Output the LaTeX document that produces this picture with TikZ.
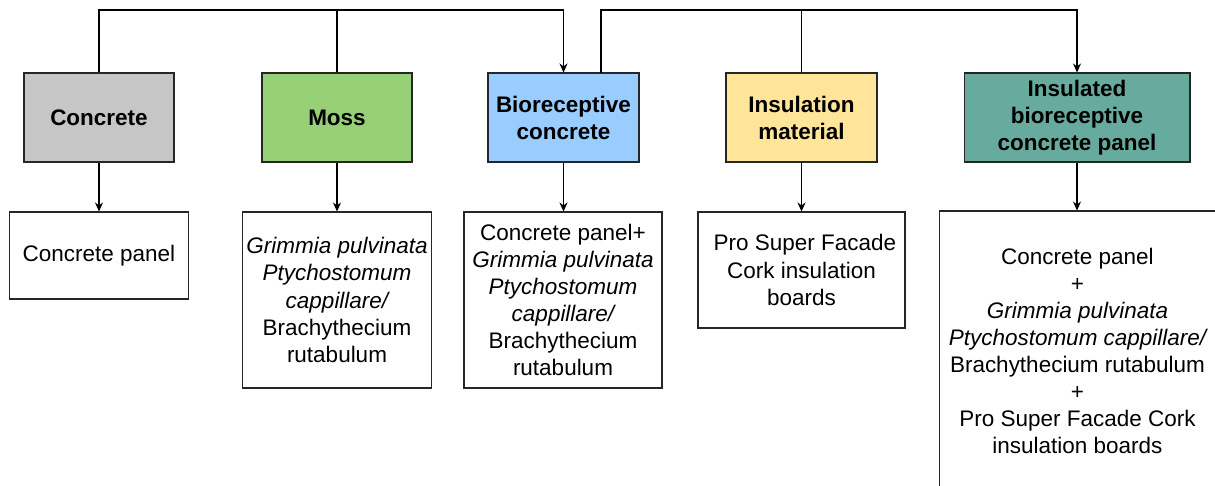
\documentclass[tikz,border=0pt]{standalone}
\usepackage{fontspec}
\setmainfont{Liberation Sans}
\usetikzlibrary{arrows.meta}

\definecolor{cgray}{HTML}{C6C6C6}
\definecolor{cmoss}{HTML}{97D077}
\definecolor{cblue}{HTML}{99CCFF}
\definecolor{cyellow}{HTML}{FFE599}
\definecolor{cteal}{HTML}{67AB9F}
\definecolor{edge}{HTML}{262626}

\tikzset{
  base/.style={draw=edge, line width=0.6pt, align=center, inner sep=2pt,
    font=\fontsize{12.8pt}{15.4pt}\selectfont},
  head/.style={base, minimum width=3.0cm, minimum height=1.78cm,
    font=\fontsize{12.8pt}{15.4pt}\selectfont\bfseries},
  info/.style={base, fill=white},
  link/.style={draw=black, line width=0.6pt},
  arr/.style={link, -{Stealth[length=1.8mm, width=1.6mm]}},
}

\begin{document}
\begin{tikzpicture}[x=0.02cm, y=-0.02cm]
\useasboundingbox (0,0) rectangle (1215,486);
\clip (0,0) rectangle (1215,486);

% category boxes
\node[head, fill=cgray]   (concrete) at (99,117.5)   {Concrete};
\node[head, fill=cmoss]   (moss)     at (337,117.5)  {Moss};
\node[head, fill=cblue, minimum width=3.02cm] (bio) at (563.5,117.5) {Bioreceptive\\concrete};
\node[head, fill=cyellow, minimum width=3.02cm] (insul) at (801.5,117.5) {Insulation\\material};
\node[head, fill=cteal, minimum width=4.52cm] (panel) at (1077,117.5) {Insulated\\bioreceptive\\concrete panel};

% description boxes
\node[info, minimum width=3.58cm, minimum height=1.74cm] (dconc) at (99,255.5) {Concrete panel};
\node[info, minimum width=3.76cm, minimum height=3.52cm] (dmoss) at (337,300)
  {\itshape Grimmia pulvinata\\ \itshape Ptychostomum\\ \itshape cappillare/\\Brachythecium\\rutabulum};
\node[info, minimum width=3.96cm, minimum height=3.52cm] (dbio) at (563,300)
  {Concrete panel+\\ \itshape Grimmia pulvinata\\ \itshape Ptychostomum\\ \itshape cappillare/\\Brachythecium\\rutabulum};
\node[info, minimum width=4.14cm, minimum height=2.32cm] (dins) at (801.5,270)
  {\hspace{0.3em}Pro Super Facade\\Cork insulation\\boards};
\node[info, minimum width=5.54cm, minimum height=5.6cm] (dpanel) at (1077.5,351)
  {Concrete panel\\+\\ \itshape Grimmia pulvinata\\ \itshape Ptychostomum cappillare/\\Brachythecium rutabulum\\+\\Pro Super Facade Cork\\insulation boards};

% top bus lines
\coordinate (busA) at (337,10);
\coordinate (busB) at (801,10);
\coordinate (bioout) at (601,73);

\draw[arr] (concrete.north) |- (busA) -| (bio.north);
\draw[link] (moss.north) -- (moss.north |- busA);
\draw[arr] (bioout) |- (busB) -| (panel.north);
\draw[link] (insul.north) -- (insul.north |- busB);

% downward arrows
\foreach \a/\b in {concrete/dconc, moss/dmoss, bio/dbio, insul/dins, panel/dpanel}
  \draw[arr] (\a.south) -- (\a.south |- \b.north);
\end{tikzpicture}
\end{document}
